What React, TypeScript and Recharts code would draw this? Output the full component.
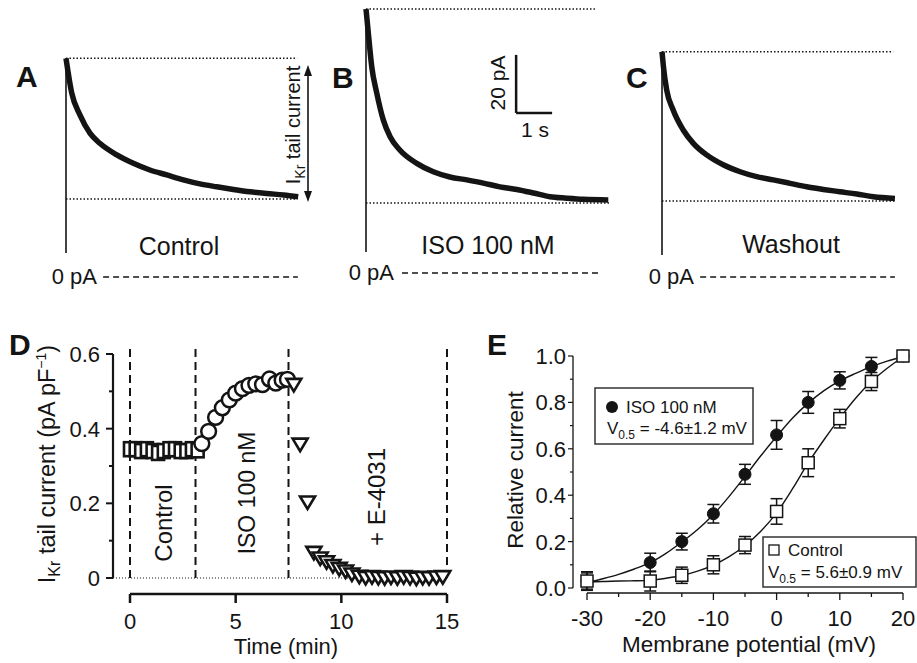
import React from 'react';
import { LineChart, Line, XAxis, YAxis, ReferenceLine, ComposedChart, Scatter, ErrorBar } from 'recharts';

const FONT = '"Liberation Sans", Arial, Helvetica, sans-serif';
const INK = '#141414';

// ---------- Panels A–C: tail-current traces (time in s, current in pA) ----------
const timeA = [0, 0.16, 0.39, 0.67, 0.94, 1.41, 1.87, 2.33, 2.8, 3.26, 3.72, 4.19, 4.65, 5.11, 5.57, 6.04, 6.45];
const currentA = [75.4, 63.4, 55.8, 49.5, 46.1, 42.1, 39.2, 36.9, 35.2, 33.5, 32.1, 31.1, 30.2, 29.4, 28.8, 28.3, 27.7];
const levelsA = { peak: 75.4, floor: 26.9, step: 8.3 };

const timeB = [0, 0.065, 0.16, 0.3, 0.48, 0.67, 0.94, 1.41, 1.87, 2.33, 2.8, 3.26, 3.72, 4.19, 4.65, 5.11, 5.57, 6.04, 6.73];
const currentB = [91.0, 82.7, 71.1, 62.0, 52.8, 47.0, 42.4, 37.8, 34.9, 33.1, 32.1, 31.0, 29.7, 28.8, 27.6, 26.3, 25.8, 25.4, 25.2];
const levelsB = { peak: 91.0, floor: 24.1, step: 7.2 };
const scaleBar = { t: 4.17, i: 55.2, dI: 20, dT: 1 };

const timeC = [0, 0.04, 0.13, 0.31, 0.59, 0.87, 1.24, 1.7, 2.17, 2.63, 3.09, 3.56, 4.02, 4.48, 4.94, 5.41, 5.87, 6.47];
const currentC = [77.7, 72.5, 64.5, 57.6, 50.7, 46.1, 42.1, 38.7, 36.3, 34.6, 33.5, 32.3, 31.1, 30.2, 29.4, 28.6, 27.7, 27.1];
const levelsC = { peak: 77.7, floor: 26.2, step: 7.6 };

// ---------- Panel D: time course (min, pA/pF) ----------
const controlTime = [0, 0.27, 0.53, 0.8, 1.07, 1.33, 1.6, 1.87, 2.13, 2.4, 2.67, 2.93, 3.2];
const controlCurrent = [0.345, 0.345, 0.34, 0.345, 0.34, 0.335, 0.34, 0.345, 0.345, 0.34, 0.34, 0.345, 0.342];
const isoTime = [3.4, 3.72, 4.05, 4.37, 4.7, 5.0, 5.32, 5.63, 5.95, 6.27, 6.6, 6.9, 7.2, 7.45];
const isoCurrent = [0.36, 0.393, 0.43, 0.456, 0.477, 0.495, 0.507, 0.516, 0.52, 0.518, 0.533, 0.522, 0.53, 0.532];
const e4031Time = [7.75, 8.05, 8.4, 8.7, 9.0, 9.3, 9.6, 9.9, 10.2, 10.5, 10.85, 11.15, 11.45, 11.75, 12.05, 12.35, 12.65, 12.95, 13.25, 13.55, 13.85, 14.15, 14.5, 14.8];
const e4031Current = [0.52, 0.36, 0.205, 0.07, 0.055, 0.045, 0.035, 0.027, 0.02, 0.012, 0.006, 0.003, 0.005, 0.003, 0.002, 0.004, 0.002, 0.005, 0.003, 0.001, 0.003, 0.002, 0.004, 0.005];
const phaseBoundaries = [0, 3.1, 7.5, 15];
const dTimeTicks = [0, 5, 10, 15];
const dCurrentTicks = [0, 0.1, 0.2, 0.3, 0.4, 0.5, 0.6];

// ---------- Panel E: activation curves ----------
const voltages = [-30, -20, -15, -10, -5, 0, 5, 10, 15, 20];
const isoRel = [0.03, 0.11, 0.2, 0.32, 0.49, 0.66, 0.8, 0.895, 0.955, 1.0];
const isoErr = [0.035, 0.04, 0.036, 0.04, 0.043, 0.062, 0.047, 0.037, 0.039, 0];
const ctrlRel = [0.03, 0.03, 0.055, 0.1, 0.185, 0.33, 0.54, 0.73, 0.89, 1.0];
const ctrlErr = [0.04, 0.043, 0.035, 0.039, 0.037, 0.055, 0.06, 0.04, 0.039, 0];
const fitVoltages = [-30, -27.5, -25, -22.5, -20, -17.5, -15, -12.5, -10, -7.5, -5, -2.5, 0, 2.5, 5, 7.5, 10, 12.5, 15, 17.5, 20];
const isoFit = [0.023, 0.04, 0.059, 0.082, 0.109, 0.149, 0.198, 0.252, 0.317, 0.395, 0.481, 0.57, 0.653, 0.732, 0.797, 0.851, 0.893, 0.925, 0.954, 0.978, 0.997];
const ctrlFit = [0.026, 0.028, 0.03, 0.031, 0.033, 0.042, 0.054, 0.073, 0.099, 0.135, 0.183, 0.245, 0.324, 0.427, 0.539, 0.639, 0.732, 0.818, 0.89, 0.947, 0.997];
const eVoltTicks = [-30, -25, -20, -15, -10, -5, 0, 5, 10, 15, 20];
const eRelTicks = [0, 0.1, 0.2, 0.3, 0.4, 0.5, 0.6, 0.7, 0.8, 0.9, 1.0];

// ---------- Trace panels ----------
const PX_PER_S = 36;
const PX_PER_PA = 2.9;

type TraceProps = {
  x0: number; zeroY: number; top: number; right: number;
  time: number[]; current: number[];
  levels: { peak: number; floor: number; step: number };
  zeroFrom: number; zeroTo: number; peakTo: number; floorTo: number;
  extra?: React.ReactNode;
};

function TracePanel(p: TraceProps) {
  const padL = 6;
  const padB = 8;
  const left = p.x0 - padL;
  const width = p.right - left;
  const height = p.zeroY + padB - p.top;
  const xDomain = [-padL / PX_PER_S, (width - padL) / PX_PER_S];
  const yDomain = [-padB / PX_PER_PA, (p.zeroY - p.top) / PX_PER_PA];
  const data = p.time.map((t, k) => ({ t, i: p.current[k] }));
  return (
    <div style={{ position: 'absolute', left, top: p.top, width, height }}>
      <LineChart width={width} height={height} data={data} margin={{ top: 0, right: 0, bottom: 0, left: 0 }}>
        <XAxis type="number" dataKey="t" domain={xDomain} hide />
        <YAxis type="number" domain={yDomain} hide />
        <ReferenceLine ifOverflow="visible" segment={[{ x: 0, y: p.levels.peak }, { x: p.peakTo, y: p.levels.peak }]} stroke={INK} strokeWidth={1.5} strokeDasharray="1.5 2" />
        <ReferenceLine ifOverflow="visible" segment={[{ x: 0, y: p.levels.floor }, { x: p.floorTo, y: p.levels.floor }]} stroke={INK} strokeWidth={1.5} strokeDasharray="1.5 2" />
        <ReferenceLine ifOverflow="visible" segment={[{ x: p.zeroFrom, y: 0 }, { x: p.zeroTo, y: 0 }]} stroke={INK} strokeWidth={1.3} strokeDasharray="6 4" />
        <ReferenceLine ifOverflow="visible" segment={[{ x: 0, y: p.levels.step }, { x: 0, y: p.levels.peak }]} stroke={INK} strokeWidth={1.6} />
        <Line type="monotone" dataKey="i" stroke={INK} strokeWidth={5.5} dot={false} isAnimationActive={false} strokeLinejoin="round" />
        {p.extra}
      </LineChart>
    </div>
  );
}

// ---------- Panel D helpers ----------
const D_AX = 113;
const D_AY = 294;

const DYTick = (p: any) => {
  const v = p.payload.value as number;
  const major = Math.round(v * 10) % 2 === 0;
  return (
    <g>
      <line x1={D_AX - (major ? 7 : 4)} x2={D_AX} y1={p.y} y2={p.y} stroke={INK} strokeWidth={2} />
      {major && (
        <text x={D_AX - 13} y={p.y + 8} textAnchor="end" fontSize={22} fontFamily={FONT} fill={INK}>
          {v === 0 ? '0' : v.toFixed(1)}
        </text>
      )}
    </g>
  );
};

const DXTick = (p: any) => (
  <g>
    <line x1={p.x} x2={p.x} y1={D_AY} y2={D_AY + 9} stroke={INK} strokeWidth={2.5} />
    <text x={p.x} y={D_AY + 35} textAnchor="middle" fontSize={22} fontFamily={FONT} fill={INK}>
      {p.payload.value}
    </text>
  </g>
);

const SquareD = (p: any) => (
  <rect x={p.cx - 6} y={p.cy - 7} width={12} height={14} fill="#fff" stroke={INK} strokeWidth={2.6} />
);
const CircleD = (p: any) => <circle cx={p.cx} cy={p.cy} r={7.4} fill="#fff" stroke={INK} strokeWidth={2.5} />;
const TriD = (p: any) => (
  <path d={`M${p.cx - 7.5},${p.cy - 5} L${p.cx + 7.5},${p.cy - 5} L${p.cx},${p.cy + 7.5} Z`} fill="#fff" stroke={INK} strokeWidth={2.6} strokeLinejoin="miter" />
);

// ---------- Panel E helpers ----------
const E_AX = 113;
const E_AY = 293;

const EYTick = (p: any) => {
  const v = p.payload.value as number;
  const major = Math.round(v * 10) % 2 === 0;
  return (
    <g>
      <line x1={E_AX - (major ? 5 : 3)} x2={E_AX} y1={p.y} y2={p.y} stroke={INK} strokeWidth={1.2} />
      {major && (
        <text x={E_AX - 7} y={p.y + 8} textAnchor="end" fontSize={22} fontFamily={FONT} fill={INK}>
          {v.toFixed(1)}
        </text>
      )}
    </g>
  );
};

const EXTick = (p: any) => {
  const v = p.payload.value as number;
  const major = v % 10 === 0;
  return (
    <g>
      <line x1={p.x} x2={p.x} y1={E_AY} y2={E_AY + (major ? 7 : 4)} stroke={INK} strokeWidth={1.3} />
      {major && (
        <text x={p.x} y={E_AY + 33} textAnchor="middle" fontSize={22} fontFamily={FONT} fill={INK}>
          {v}
        </text>
      )}
    </g>
  );
};

const FilledCircleE = (p: any) => <circle cx={p.cx} cy={p.cy} r={6} fill={INK} stroke={INK} strokeWidth={1} />;
const OpenSquareE = (p: any) => (
  <rect x={p.cx - 6} y={p.cy - 6} width={12} height={12} fill="#fff" stroke={INK} strokeWidth={1.5} />
);

function RotText({ bx, cy, size, children, weight }: { bx: number; cy: number; size: number; children: React.ReactNode; weight?: string }) {
  return (
    <text transform={`translate(${bx},${cy}) rotate(-90)`} x={0} y={0} textAnchor="middle" fontSize={size} fontFamily={FONT} fill={INK} fontWeight={weight}>
      {children}
    </text>
  );
}

export default function App() {
  const controlData = controlTime.map((x, k) => ({ x, y: controlCurrent[k] }));
  const isoData = isoTime.map((x, k) => ({ x, y: isoCurrent[k] }));
  const e4031Data = e4031Time.map((x, k) => ({ x, y: e4031Current[k] }));

  const isoPts = voltages.map((x, k) => ({ x, y: isoRel[k], err: isoErr[k] }));
  const ctrlPts = voltages.map((x, k) => ({ x, y: ctrlRel[k], err: ctrlErr[k] }));
  const isoCurve = fitVoltages.map((x, k) => ({ x, y: isoFit[k] }));
  const ctrlCurve = fitVoltages.map((x, k) => ({ x, y: ctrlFit[k] }));

  const dX: [number, number] = [-0.8045, 15.615];
  const dY: [number, number] = [-0.04286, 0.6375];
  const eX: [number, number] = [-32.215, 22.215];
  const eY: [number, number] = [-0.02155, 1.069];

  return (
    <div style={{ position: 'absolute', left: 0, top: 0, width: 917, height: 663, background: '#fff', fontFamily: FONT, overflow: 'hidden' }}>
      <TracePanel x0={66} zeroY={277} top={40} right={318} time={timeA} current={currentA} levels={levelsA}
        zeroFrom={1.03} zeroTo={6.44} peakTo={6.42} floorTo={6.42} />
      <TracePanel x0={366} zeroY={273} top={2} right={616} time={timeB} current={currentB} levels={levelsB}
        zeroFrom={1.0} zeroTo={6.5} peakTo={6.36} floorTo={6.75}
        extra={[
          <ReferenceLine key="sv" ifOverflow="visible" segment={[{ x: scaleBar.t, y: scaleBar.i }, { x: scaleBar.t, y: scaleBar.i + scaleBar.dI }]} stroke={INK} strokeWidth={2.5} />,
          <ReferenceLine key="sh" ifOverflow="visible" segment={[{ x: scaleBar.t, y: scaleBar.i }, { x: scaleBar.t + scaleBar.dT, y: scaleBar.i }]} stroke={INK} strokeWidth={2.5} />,
        ]} />
      <TracePanel x0={662} zeroY={277} top={40} right={910} time={timeC} current={currentC} levels={levelsC}
        zeroFrom={1.06} zeroTo={6.47} peakTo={6.42} floorTo={6.47} />

      {/* Panel D */}
      <div style={{ position: 'absolute', left: 0, top: 300, width: 460, height: 363 }}>
        <ComposedChart width={460} height={363} margin={{ top: 40, right: 0, bottom: 29, left: 53 }}>
          <XAxis type="number" dataKey="x" domain={dX} ticks={dTimeTicks} interval={0} height={40} axisLine={false} tickLine={false} tick={(p: any) => <DXTick {...p} />} />
          <YAxis type="number" dataKey="y" domain={dY} ticks={dCurrentTicks} interval={0} width={60} axisLine={false} tickLine={false} tick={(p: any) => <DYTick {...p} />} />
          <ReferenceLine ifOverflow="visible" segment={[{ x: dX[0], y: 0 }, { x: dX[0], y: 0.6 }]} stroke={INK} strokeWidth={2.2} />
          <ReferenceLine ifOverflow="visible" segment={[{ x: 0, y: dY[0] }, { x: 15, y: dY[0] }]} stroke={INK} strokeWidth={2.5} />
          <ReferenceLine ifOverflow="visible" segment={[{ x: dX[0], y: 0 }, { x: 15, y: 0 }]} stroke={INK} strokeWidth={1} strokeDasharray="1 2" />
          {phaseBoundaries.map((b) => (
            <ReferenceLine key={b} ifOverflow="visible" segment={[{ x: b, y: 0 }, { x: b, y: 0.619 }]} stroke={INK} strokeWidth={2} strokeDasharray="8 5" />
          ))}
          <Scatter data={controlData} dataKey="y" shape={(p: any) => <SquareD {...p} />} isAnimationActive={false} />
          <Scatter data={isoData} dataKey="y" shape={(p: any) => <CircleD {...p} />} isAnimationActive={false} />
          <Scatter data={e4031Data} dataKey="y" shape={(p: any) => <TriD {...p} />} isAnimationActive={false} />
        </ComposedChart>
      </div>

      {/* Panel E */}
      <div style={{ position: 'absolute', left: 460, top: 300, width: 457, height: 363 }}>
        <ComposedChart width={457} height={363} margin={{ top: 40, right: 0, bottom: 30, left: 53 }}>
          <XAxis type="number" dataKey="x" domain={eX} ticks={eVoltTicks} interval={0} height={40} axisLine={false} tickLine={false} tick={(p: any) => <EXTick {...p} />} />
          <YAxis type="number" dataKey="y" domain={eY} ticks={eRelTicks} interval={0} width={60} axisLine={false} tickLine={false} tick={(p: any) => <EYTick {...p} />} />
          <ReferenceLine ifOverflow="visible" segment={[{ x: eX[0], y: 0 }, { x: eX[0], y: 1 }]} stroke={INK} strokeWidth={1.3} />
          <ReferenceLine ifOverflow="visible" segment={[{ x: -30, y: eY[0] }, { x: 20, y: eY[0] }]} stroke={INK} strokeWidth={1.5} />
          <Line data={isoCurve} type="monotone" dataKey="y" stroke={INK} strokeWidth={1.4} dot={false} isAnimationActive={false} />
          <Line data={ctrlCurve} type="monotone" dataKey="y" stroke={INK} strokeWidth={1.4} dot={false} isAnimationActive={false} />
          <Scatter data={isoPts} dataKey="y" shape={(p: any) => <FilledCircleE {...p} />} isAnimationActive={false}>
            <ErrorBar dataKey="err" direction="y" width={6} stroke={INK} strokeWidth={1.5} />
          </Scatter>
          <Scatter data={ctrlPts} dataKey="y" shape={(p: any) => <OpenSquareE {...p} />} isAnimationActive={false}>
            <ErrorBar dataKey="err" direction="y" width={6} stroke={INK} strokeWidth={1.5} />
          </Scatter>
        </ComposedChart>
      </div>

      {/* Annotations */}
      <svg width={917} height={663} style={{ position: 'absolute', left: 0, top: 0, pointerEvents: 'none' }}>
        <g fontFamily={FONT} fill={INK}>
          <text x={16} y={87} fontSize={30} fontWeight="bold">A</text>
          <text x={332} y={88} fontSize={30} fontWeight="bold">B</text>
          <text x={626} y={88} fontSize={30} fontWeight="bold">C</text>
          <text x={9} y={355} fontSize={30} fontWeight="bold">D</text>
          <text x={487} y={355} fontSize={30} fontWeight="bold">E</text>

          <text x={179} y={255} fontSize={25} textAnchor="middle">Control</text>
          <text x={488} y={254} fontSize={25} textAnchor="middle">ISO 100 nM</text>
          <text x={791} y={253} fontSize={25} textAnchor="middle">Washout</text>

          <text x={97} y={284} fontSize={22} textAnchor="end">0 pA</text>
          <text x={394} y={280} fontSize={22} textAnchor="end">0 pA</text>
          <text x={694} y={284} fontSize={22} textAnchor="end">0 pA</text>

          <RotText bx={300} cy={125} size={20}>
            I<tspan fontSize={14} dy={5}>Kr</tspan><tspan dy={-5}> tail current</tspan>
          </RotText>
          <RotText bx={505} cy={83} size={21}>20 pA</RotText>
          <text x={535} y={137} fontSize={21} textAnchor="middle">1 s</text>

          <RotText bx={55} cy={464} size={23.5}>
            I<tspan fontSize={16} dy={5}>Kr</tspan><tspan dy={-5}> tail current (pA pF</tspan><tspan fontSize={14} dy={-9}>−1</tspan><tspan dy={9}>)</tspan>
          </RotText>
          <RotText bx={172} cy={523} size={24}>Control</RotText>
          <RotText bx={255} cy={493} size={23}>ISO 100 nM</RotText>
          <RotText bx={385} cy={497} size={24}>+ E-4031</RotText>
          <text x={286} y={654} fontSize={22} textAnchor="middle">Time (min)</text>

          <RotText bx={523} cy={470} size={22.5}>Relative current</RotText>
          <text x={749} y={652} fontSize={22.5} textAnchor="middle">Membrane potential (mV)</text>
        </g>

        {/* Arrow in A */}
        <line x1={308} x2={308} y1={72} y2={195} stroke={INK} strokeWidth={1.6} />
        <path d="M308,65 L304,76 L312,76 Z" fill={INK} />
        <path d="M308,202 L304,191 L312,191 Z" fill={INK} />

        {/* Legends in E */}
        <rect x={595} y={388} width={158} height={56} fill="#fff" stroke="#333" strokeWidth={1.5} />
        <circle cx={612} cy={407} r={6} fill={INK} />
        <text x={626} y={413} fontSize={17} fontFamily={FONT} fill={INK}>ISO 100 nM</text>
        <text x={607} y={434} fontSize={17} fontFamily={FONT} fill={INK}>
          V<tspan fontSize={12} dy={5}>0.5</tspan><tspan dy={-5}> = -4.6±1.2 mV</tspan>
        </text>

        <rect x={763} y={537} width={153} height={50} fill="#fff" stroke="#333" strokeWidth={1.5} />
        <rect x={769} y={545} width={10} height={10} fill="#fff" stroke={INK} strokeWidth={1.3} />
        <text x={788} y={556} fontSize={17} fontFamily={FONT} fill={INK}>Control</text>
        <text x={768} y={578} fontSize={17} fontFamily={FONT} fill={INK}>
          V<tspan fontSize={12} dy={5}>0.5</tspan><tspan dy={-5}> = 5.6±0.9 mV</tspan>
        </text>
      </svg>
    </div>
  );
}
